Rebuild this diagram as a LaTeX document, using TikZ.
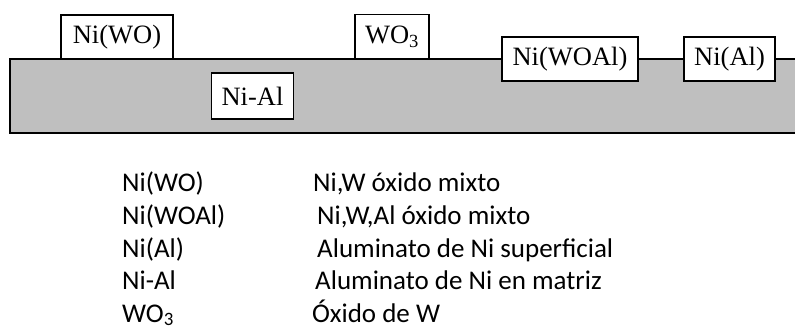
\documentclass[tikz,border=0pt]{standalone}
\usepackage{fontspec}
\setmainfont{Liberation Serif}
\newfontfamily\legendfont{Carlito}
\usetikzlibrary{positioning}

\begin{document}
\begin{tikzpicture}[x=1pt, y=-1pt,
            phasenode/.style={rectangle, draw=black, fill=white, line width=1.6pt, inner xsep=10pt, inner ysep=0pt, minimum height=44pt, font=\fontsize{26.5}{30}\selectfont},
            legendnode/.style={anchor=base west, inner sep=0pt, font=\legendfont\fontsize{27}{32}\selectfont},
            ]
            \useasboundingbox (0,0) rectangle (795,331);

            % support
            \fill[gray!50] (10,59) rectangle (795,133);
            \draw[line width=1.6pt] (795,59) -- (10,59) -- (10,133) -- (795,133);

            % phases
            \node[phasenode, minimum width=112pt] (NiWO) at (117,37) {Ni(WO)};
            \node[phasenode, minimum width=70pt] (WO3) at (392,36.5) {WO\textsubscript{3}};
            \node[phasenode, minimum width=81pt, minimum height=46pt] (NiAl) at (252.5,96) {Ni-Al};
            \node[phasenode, minimum width=136pt] (NiWOAl) at (570,59) {Ni(WOAl)};
            \node[phasenode, minimum width=91pt] (NiAls) at (729.5,59) {Ni(Al)};

            % legend
            \node[legendnode] (keyNiWO) at (122,192) {Ni(WO)};
            \node[legendnode] (keyNiWOAl) at (122,224.5) {Ni(WOAl)};
            \node[legendnode] (keyNiAls) at (122,257) {Ni(Al)};
            \node[legendnode] (keyNiAl) at (122,289.5) {Ni-Al};
            \node[legendnode] (keyWO3) at (122,322) {WO\textsubscript{3}};

            \node[legendnode] (descNiWO) at (313,192) {Ni,W óxido mixto};
            \node[legendnode] (descNiWOAl) at (317,224.5) {Ni,W,Al óxido mixto};
            \node[legendnode] (descNiAls) at (317,257) {Aluminato de Ni superficial};
            \node[legendnode] (descNiAl) at (315,289.5) {Aluminato de Ni en matriz};
            \node[legendnode] (descWO3) at (312,322) {Óxido de W};
        \end{tikzpicture}
\end{document}
